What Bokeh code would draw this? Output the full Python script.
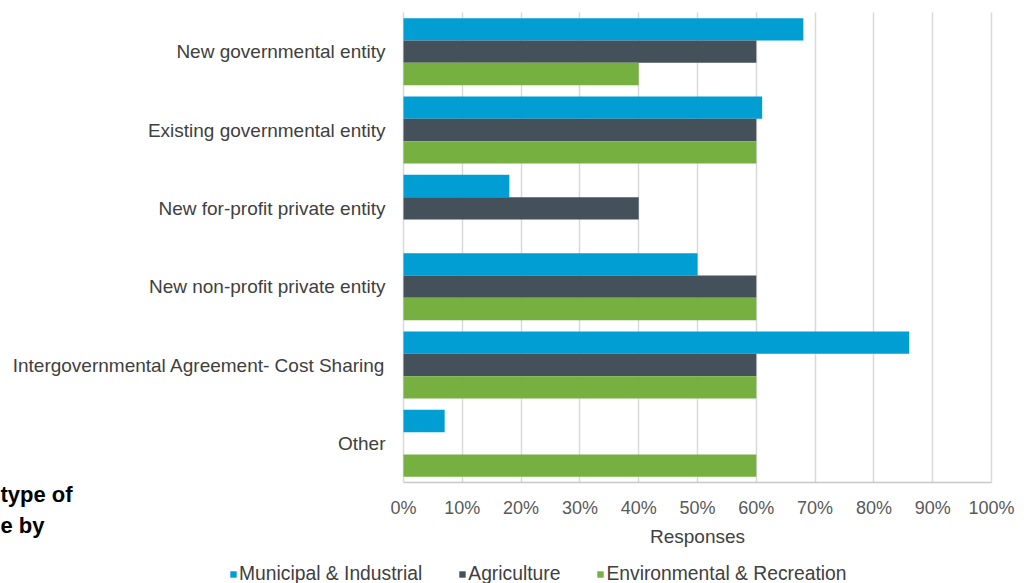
from bokeh.plotting import figure
from bokeh.models import (ColumnDataSource, Range1d, Legend, LegendItem, Label,
                          NumeralTickFormatter, FixedTicker)
from bokeh.embed import file_html
from bokeh.resources import INLINE

categories = ["New governmental entity", "Existing governmental entity", "New for-profit private entity",
              "New non-profit private entity", "Intergovernmental Agreement- Cost Sharing", "Other"]
municipal = [0.68, 0.61, 0.18, 0.50, 0.86, 0.07]
agriculture = [0.60, 0.60, 0.40, 0.60, 0.60, 0.0]
environmental = [0.40, 0.60, 0.0, 0.60, 0.60, 0.60]
series_names = ["Municipal & Industrial", "Agriculture", "Environmental & Recreation"]
x_ticks = [0, 0.1, 0.2, 0.3, 0.4, 0.5, 0.6, 0.7, 0.8, 0.9, 1.0]
caption_lines = ["type of", "e by"]

FONT = "Liberation Sans"
colors = ["#009ED3", "#44515A", "#76B041"]

# ---- layout (pixels) ----
W, H = 1034, 583
FL, FR, FT, FB = 403, 991, 12, 482          # plotting area of the chart
n = len(categories)
xs = (FR - FL) / 1.0
ys = (FB - FT) / n
x_range = Range1d(-FL / xs, (W - FL) / xs)
y_range = Range1d(-(H - FB) / ys, n + FT / ys)

pos = [n - 0.5 - i for i in range(n)]
bh = 0.285
src = ColumnDataSource(dict(
    cat=categories, m=municipal, a=agriculture, e=environmental,
    y_m=[v + bh for v in pos], y_a=pos, y_e=[v - bh for v in pos]))

p = figure(width=W, height=H, output_backend="svg", toolbar_location=None,
           x_range=x_range, y_range=y_range, min_border=0)
p.outline_line_color = None
p.background_fill_color = "white"
p.border_fill_color = "white"

r1 = p.hbar(y="y_m", right="m", left=0, height=bh, source=src, color=colors[0], line_color=None)
r2 = p.hbar(y="y_a", right="a", left=0, height=bh, source=src, color=colors[1], line_color=None)
r3 = p.hbar(y="y_e", right="e", left=0, height=bh, source=src, color=colors[2], line_color=None)

xa = p.xaxis[0]
xa.fixed_location = 0
xa.bounds = (0, 1)
xa.ticker = FixedTicker(ticks=x_ticks)
xa.formatter = NumeralTickFormatter(format="0%")
xa.major_tick_line_color = None
xa.minor_tick_line_color = None
xa.axis_line_color = "#C8C8C8"
xa.axis_line_width = 1.5
xa.major_label_standoff = 9
xa.major_label_text_font = FONT
xa.major_label_text_font_size = "18px"
xa.major_label_text_color = "#595959"
xa.axis_label = "Responses"
xa.axis_label_text_font = FONT
xa.axis_label_text_font_style = "normal"
xa.axis_label_text_font_size = "19px"
xa.axis_label_text_color = "#404040"
xa.axis_label_standoff = 5

ya = p.yaxis[0]
ya.fixed_location = 0
ya.bounds = (0, n)
ya.ticker = FixedTicker(ticks=pos)
ya.major_label_overrides = {v: c for v, c in zip(pos, categories)}
ya.axis_line_color = None
ya.major_tick_line_color = None
ya.minor_tick_line_color = None
ya.major_label_standoff = 12
ya.major_label_text_font = FONT
ya.major_label_text_font_size = "19px"
ya.major_label_text_color = "#404040"

p.xgrid.grid_line_color = "#D9D9D9"
p.xgrid.grid_line_width = 1.5
p.xgrid.bounds = (0, 1)
try:
    p.xgrid.cross_bounds = (0, n)
except Exception:
    pass
p.ygrid.grid_line_color = None

legend = Legend(items=[LegendItem(label=series_names[0], renderers=[r1]),
                       LegendItem(label=series_names[1], renderers=[r2]),
                       LegendItem(label=series_names[2], renderers=[r3])],
                orientation="horizontal", location=(229, -2),
                glyph_width=8, glyph_height=8, label_standoff=2, spacing=36, label_height=20,
                padding=0, margin=0, border_line_color=None, background_fill_alpha=0,
                label_text_font=FONT, label_text_font_size="19.3px", label_text_color="#404040")
p.add_layout(legend, "center")

for txt, yb in zip(caption_lines, [494, 525]):
    p.add_layout(Label(x=0, y=H - yb, x_units="screen", y_units="screen", text=txt,
                       text_align="left", text_baseline="alphabetic", text_font=FONT,
                       text_font_style="bold", text_font_size="22px", text_color="#000000"))

open("out.html", "w").write(file_html(p, INLINE))
